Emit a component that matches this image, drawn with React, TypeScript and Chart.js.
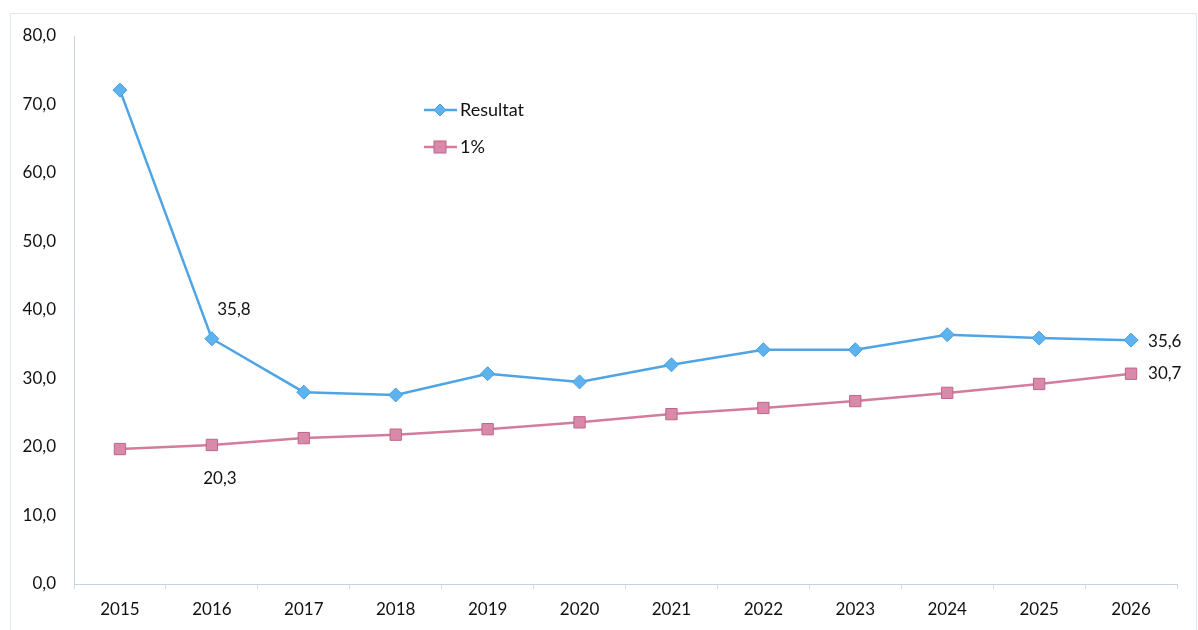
import React, { useEffect, useRef } from "react";
import { Chart, registerables } from "chart.js";

Chart.register(...registerables);

const years = ["2015", "2016", "2017", "2018", "2019", "2020", "2021", "2022", "2023", "2024", "2025", "2026"];
const resultat = [72.1, 35.8, 28.0, 27.6, 30.7, 29.5, 32.0, 34.2, 34.2, 36.4, 35.9, 35.6];
const onePercent = [19.7, 20.3, 21.3, 21.8, 22.6, 23.6, 24.8, 25.7, 26.7, 27.9, 29.2, 30.7];
const seriesNames = ["Resultat", "1%"];
const yTicks = [0, 10, 20, 30, 40, 50, 60, 70, 80];

const FONT = "Lato, 'Open Sans', sans-serif";
const FS = 17;
const BLUE_LINE = "#4ea4e4";
const BLUE_FILL = "#5cb3f0";
const PINK_LINE = "#d47c9e";
const PINK_FILL = "#d98aaa";
const PINK_BORDER = "#c0648a";
const TEXT = "#111111";

const fmt = (v: number) => v.toFixed(1).replace(".", ",");

const framePlugin = {
  id: "frame",
  beforeDraw(chart: any) {
    const ctx = chart.ctx;
    ctx.save();
    ctx.strokeStyle = "#dfe8f2";
    ctx.lineWidth = 1;
    ctx.strokeRect(10.5, 13.5, 1186, 640);
    ctx.restore();
  },
};

const legendPlugin = {
  id: "customLegend",
  afterDraw(chart: any) {
    const ctx = chart.ctx;
    const items = [
      { y: 110, name: seriesNames[0], line: BLUE_LINE, ds: 0 },
      { y: 147, name: seriesNames[1], line: PINK_LINE, ds: 1 },
    ];
    ctx.save();
    items.forEach((it) => {
      const ds = chart.data.datasets[it.ds];
      ctx.strokeStyle = it.line;
      ctx.lineWidth = 2.5;
      ctx.beginPath();
      ctx.moveTo(424, it.y);
      ctx.lineTo(457, it.y);
      ctx.stroke();
      ctx.fillStyle = ds.pointBackgroundColor;
      ctx.strokeStyle = ds.pointBorderColor;
      ctx.lineWidth = 1;
      if (it.ds === 0) {
        ctx.beginPath();
        ctx.moveTo(440, it.y - 6);
        ctx.lineTo(446, it.y);
        ctx.lineTo(440, it.y + 6);
        ctx.lineTo(434, it.y);
        ctx.closePath();
        ctx.fill();
        ctx.stroke();
      } else {
        ctx.fillRect(434, it.y - 6, 12, 12);
        ctx.strokeRect(434, it.y - 6, 12, 12);
      }
      ctx.fillStyle = TEXT;
      ctx.font = "18px " + FONT;
      ctx.textAlign = "left";
      ctx.textBaseline = "middle";
      ctx.fillText(it.name, 460, it.y);
    });
    ctx.restore();
  },
};

const labelsPlugin = {
  id: "valueLabels",
  afterDatasetsDraw(chart: any) {
    const ctx = chart.ctx;
    const m0 = chart.getDatasetMeta(0).data;
    const m1 = chart.getDatasetMeta(1).data;
    const last = years.length - 1;
    const labels = [
      { p: m0[1], v: resultat[1], dx: 22, dy: -29, align: "center" },
      { p: m1[1], v: onePercent[1], dx: 8, dy: 34, align: "center" },
      { p: m0[last], v: resultat[last], dx: 17, dy: 1, align: "left" },
      { p: m1[last], v: onePercent[last], dx: 17, dy: 0, align: "left" },
    ];
    ctx.save();
    ctx.fillStyle = TEXT;
    ctx.font = FS + "px " + FONT;
    ctx.textBaseline = "middle";
    labels.forEach((l) => {
      ctx.textAlign = l.align;
      ctx.fillText(fmt(l.v), l.p.x + l.dx, l.p.y + l.dy);
    });
    ctx.restore();
  },
};

export default function App() {
  const ref = useRef<HTMLCanvasElement>(null);
  useEffect(() => {
    document.body.style.margin = "0";
    const chart = new Chart(ref.current!, {
      type: "line",
      data: {
        labels: years,
        datasets: [
          {
            label: seriesNames[0],
            data: resultat,
            borderColor: BLUE_LINE,
            borderWidth: 2.5,
            pointStyle: "rectRot",
            pointRadius: 7,
            pointBackgroundColor: BLUE_FILL,
            pointBorderColor: "#4a9fe0",
            pointBorderWidth: 1,
            tension: 0,
          },
          {
            label: seriesNames[1],
            data: onePercent,
            borderColor: PINK_LINE,
            borderWidth: 2.5,
            pointStyle: "rect",
            pointRadius: 8,
            pointBackgroundColor: PINK_FILL,
            pointBorderColor: PINK_BORDER,
            pointBorderWidth: 1,
            tension: 0,
          },
        ],
      },
      options: {
        responsive: false,
        animation: false,
        layout: { padding: { left: 0, right: 21, top: 36, bottom: 0 } },
        plugins: { legend: { display: false }, tooltip: { enabled: false } },
        scales: {
          x: {
            offset: true,
            grid: {
              offset: true,
              drawOnChartArea: false,
              drawTicks: true,
              tickLength: 5,
              color: "#d3dbe4",
            },
            border: { color: "#c9d3de", width: 1 },
            ticks: { color: TEXT, font: { family: FONT, size: FS }, padding: 10, maxRotation: 0 },
            afterFit(s: any) {
              s.height = 46;
            },
          },
          y: {
            min: 0,
            max: 80,
            afterBuildTicks(s: any) {
              s.ticks = yTicks.map((v) => ({ value: v }));
            },
            grid: { drawOnChartArea: false, drawTicks: false },
            border: { color: "#c9d3de", width: 1 },
            ticks: {
              color: TEXT,
              font: { family: FONT, size: FS },
              padding: 18,
              callback: (v: any) => fmt(Number(v)),
            },
            afterFit(s: any) {
              s.width = 74;
            },
          },
        },
      },
      plugins: [framePlugin, legendPlugin, labelsPlugin],
    } as any);
    return () => chart.destroy();
  }, []);
  return <canvas ref={ref} width={1198} height={630} style={{ display: "block" }} />;
}
